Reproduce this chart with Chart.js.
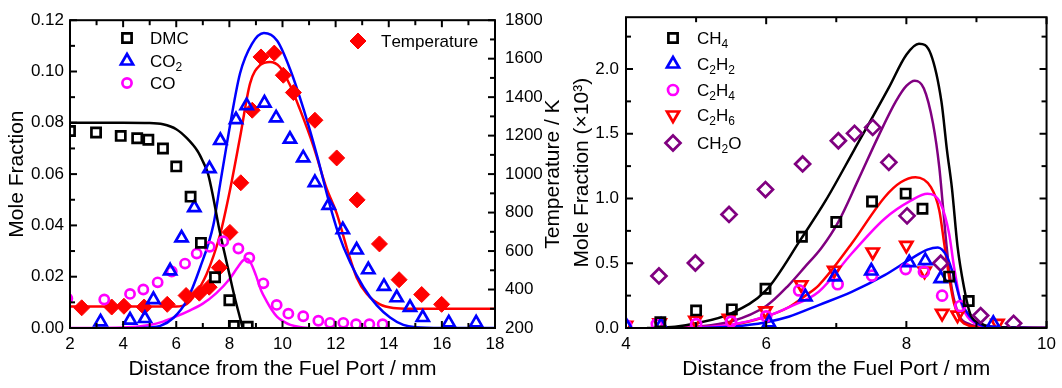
<!DOCTYPE html>
<html><head><meta charset="utf-8">
<script src="https://cdn.jsdelivr.net/npm/chart.js"></script>
<style>
html,body{margin:0;padding:0;background:#fff;}
#wrap{position:relative;width:1062px;height:388px;overflow:hidden;background:#fff;}
canvas{position:absolute;top:0;}
#cL{left:0;width:575px;height:388px;}
#cR{left:560px;width:502px;height:388px;}
</style></head><body>
<div id="wrap"><canvas id="cL" width="575" height="388"></canvas><canvas id="cR" width="502" height="388"></canvas></div>
<script>
// ---------------- LEFT PANEL DATA ----------------
const dmcX = [2.0, 2.98, 3.91, 4.53, 4.95, 5.50, 6.00, 6.54, 6.93, 7.46, 8.00, 8.17, 8.69];
const dmcY = [0.0768, 0.0762, 0.0749, 0.0740, 0.0734, 0.0700, 0.0630, 0.0512, 0.0332, 0.0198, 0.0108, 0.0008, 0.0005];
const dmcModelX = [2.0, 4.0, 5.0, 5.5, 6.0, 6.4, 6.8, 7.0, 7.2, 7.4, 7.6, 7.8, 8.0, 8.2, 8.4, 8.5];
const dmcModelY = [0.0800, 0.0800, 0.0799, 0.0794, 0.0775, 0.0740, 0.0690, 0.0650, 0.0600, 0.0505, 0.0395, 0.0300, 0.0210, 0.0120, 0.0040, 0.0000];

const co2X = [3.15, 4.26, 4.82, 5.14, 5.77, 6.20, 6.68, 7.25, 7.66, 8.25, 8.65, 9.32, 9.76, 10.28, 10.78, 11.22, 11.74, 12.27, 12.79, 13.23, 13.82, 14.30, 14.80, 15.28, 16.26, 17.29];
const co2Y = [0.0024, 0.0031, 0.0037, 0.0111, 0.0223, 0.0351, 0.0469, 0.0621, 0.0731, 0.0812, 0.0867, 0.0877, 0.0819, 0.0736, 0.0663, 0.0567, 0.0478, 0.0383, 0.0304, 0.0227, 0.0162, 0.0118, 0.0080, 0.0041, 0.0020, 0.0020];
const co2ModelX = [4.5, 5.0, 5.4, 5.9, 6.4, 6.9, 7.4, 7.65, 7.9, 8.4, 8.85, 9.3, 9.8, 10.3, 10.8, 11.3, 11.75, 12.1, 12.55, 13.05, 13.55, 14.05, 14.55, 15.0, 16.0, 18.0];
const co2ModelY = [0.0, 0.0002, 0.0008, 0.0040, 0.0108, 0.0236, 0.0403, 0.0560, 0.0715, 0.0992, 0.1108, 0.1150, 0.1120, 0.1005, 0.0851, 0.0672, 0.0492, 0.0370, 0.0255, 0.0159, 0.0088, 0.0041, 0.0012, 0.0003, 0.0, 0.0];

const coX = [1.9, 3.29, 4.26, 4.76, 5.30, 5.83, 6.33, 6.77, 7.26, 7.77, 8.34, 8.75, 9.28, 9.78, 10.22, 10.78, 11.35, 11.79, 12.29, 12.77, 13.27, 13.77];
const coY = [0.0115, 0.0111, 0.0133, 0.0150, 0.0178, 0.0220, 0.0251, 0.0290, 0.0317, 0.0338, 0.0310, 0.0274, 0.0174, 0.0090, 0.0056, 0.0046, 0.0028, 0.0020, 0.0020, 0.0015, 0.0015, 0.0015];
const coModelX = [2.0, 4.0, 5.0, 5.5, 6.0, 6.5, 7.0, 7.5, 8.0, 8.3, 8.5, 8.65, 8.8, 9.0, 9.2, 9.4, 9.6, 9.8, 10.0, 10.3, 10.7, 11.0];
const coModelY = [0.0, 0.0002, 0.0012, 0.0025, 0.0045, 0.0068, 0.0095, 0.0135, 0.0190, 0.0235, 0.0262, 0.0270, 0.0255, 0.0205, 0.0145, 0.0105, 0.0070, 0.0043, 0.0028, 0.0012, 0.0003, 0.0];

const tempX = [2.44, 3.57, 4.03, 4.79, 5.66, 6.37, 6.87, 7.24, 7.62, 8.02, 8.43, 8.86, 9.19, 9.69, 10.03, 10.41, 11.22, 12.04, 12.81, 13.65, 14.39, 15.24, 15.99];
const tempY = [305, 309, 313, 309, 323, 369, 381, 412, 514, 697, 955, 1332, 1609, 1629, 1514, 1424, 1280, 1084, 866, 637, 451, 374, 323];
const tempModelX = [2.0, 6.0, 6.4, 6.64, 7.14, 7.65, 8.02, 8.40, 8.78, 9.15, 9.53, 9.90, 10.28, 10.66, 11.16, 11.66, 12.04, 12.42, 12.79, 13.17, 13.67, 14.17, 14.8, 18.0];
const tempModelY = [312, 312, 325, 360, 480, 686, 915, 1190, 1472, 1566, 1583, 1557, 1463, 1335, 1147, 925, 796, 617, 463, 378, 323, 304, 300, 300];

const leftXTicks = [2, 4, 6, 8, 10, 12, 14, 16, 18];
const leftXMinor = [3, 5, 7, 9, 11, 13, 15, 17];
const leftYTicks = [0, 0.02, 0.04, 0.06, 0.08, 0.10, 0.12];
const leftYMinor = [0.01, 0.03, 0.05, 0.07, 0.09, 0.11];
const tempTicks = [200, 400, 600, 800, 1000, 1200, 1400, 1600, 1800];
const tempMinor = [300, 500, 700, 900, 1100, 1300, 1500, 1700];

// ---------------- RIGHT PANEL DATA ----------------
const ch4X = [4.49, 5.0, 5.51, 5.99, 6.51, 7.0, 7.51, 7.99, 8.23, 8.61, 8.89];
const ch4Y = [0.045, 0.136, 0.144, 0.303, 0.705, 0.818, 0.977, 1.038, 0.921, 0.397, 0.208];
const ch4ModelX = [4.3, 4.7, 5.0, 5.5, 6.0, 6.5, 6.85, 7.25, 7.75, 8.0, 8.18, 8.35, 8.5, 8.58, 8.65, 8.73, 8.82, 8.91, 9.06, 9.2, 10.0];
const ch4ModelY = [0.0, 0.01, 0.036, 0.113, 0.292, 0.69, 0.985, 1.37, 1.856, 2.11, 2.195, 2.113, 1.75, 1.37, 1.08, 0.63, 0.32, 0.11, 0.036, 0.01, 0.0];

const c2h2X = [4.0, 4.5, 6.04, 6.56, 6.98, 7.5, 8.04, 8.27, 8.49, 9.24];
const c2h2Y = [0.02, 0.02, 0.04, 0.24, 0.395, 0.44, 0.505, 0.52, 0.382, 0.036];
const c2h2ModelX = [5.0, 5.5, 6.0, 6.32, 6.75, 7.22, 7.69, 8.07, 8.3, 8.45, 8.58, 8.68, 8.77, 8.91, 9.07, 9.3, 10.0];
const c2h2ModelY = [0.0, 0.01, 0.045, 0.087, 0.177, 0.279, 0.408, 0.536, 0.605, 0.622, 0.55, 0.395, 0.215, 0.087, 0.02, 0.005, 0.0];

const c2h4X = [4.0, 4.44, 5.0, 5.5, 6.0, 6.47, 7.02, 7.51, 7.99, 8.25, 8.51, 8.77];
const c2h4Y = [0.02, 0.03, 0.03, 0.05, 0.09, 0.29, 0.338, 0.405, 0.455, 0.435, 0.25, 0.17];
const c2h4ModelX = [4.5, 5.0, 5.5, 6.0, 6.32, 6.75, 7.22, 7.69, 8.07, 8.3, 8.49, 8.61, 8.68, 8.77, 8.91, 9.2, 10.0];
const c2h4ModelY = [0.0, 0.005, 0.025, 0.09, 0.16, 0.28, 0.575, 0.844, 0.985, 1.036, 0.959, 0.728, 0.472, 0.215, 0.062, 0.01, 0.0];

const c2h6X = [4.0, 4.48, 4.99, 5.47, 5.99, 6.5, 6.97, 7.52, 8.0, 8.26, 8.51, 8.73, 9.3];
const c2h6Y = [0.02, 0.04, 0.06, 0.075, 0.133, 0.334, 0.446, 0.587, 0.638, 0.44, 0.113, 0.10, 0.036];
const c2h6ModelX = [4.5, 5.0, 5.47, 5.99, 6.32, 6.56, 6.75, 7.22, 7.69, 7.92, 8.13, 8.35, 8.47, 8.54, 8.61, 8.68, 8.82, 9.1, 10.0];
const c2h6ModelY = [0.0, 0.005, 0.02, 0.087, 0.16, 0.25, 0.33, 0.652, 1.01, 1.125, 1.164, 1.087, 0.908, 0.652, 0.395, 0.19, 0.036, 0.005, 0.0];

const ch2oX = [4.47, 4.99, 5.47, 5.99, 6.52, 7.03, 7.26, 7.52, 7.75, 8.01, 8.49, 9.06, 9.53];
const ch2oY = [0.402, 0.502, 0.877, 1.069, 1.267, 1.446, 1.503, 1.549, 1.279, 0.866, 0.50, 0.096, 0.036];
const ch2oModelX = [4.6, 5.0, 5.5, 6.0, 6.32, 6.55, 6.79, 7.03, 7.31, 7.6, 7.85, 8.0, 8.12, 8.25, 8.38, 8.47, 8.52, 8.58, 8.65, 8.75, 8.9, 9.1, 10.0];
const ch2oModelY = [0.0, 0.01, 0.05, 0.17, 0.33, 0.47, 0.62, 0.82, 1.14, 1.48, 1.75, 1.87, 1.91, 1.85, 1.58, 1.24, 0.95, 0.60, 0.30, 0.10, 0.03, 0.01, 0.0];

const rightXTicks = [4, 6, 8, 10];
const rightXMinor = [5, 7, 9];
const rightYTicks = [0, 0.5, 1.0, 1.5, 2.0];
const rightYMinor = [0.25, 0.75, 1.25, 1.75, 2.25];

// ---------------- HELPERS ----------------
const FAMILY = "'Liberation Sans', Arial, sans-serif";
const TITLE_FONT = {family: FAMILY, size: 21};
const TICK_FONT = {family: FAMILY, size: 17};
Chart.defaults.font.family = FAMILY;
Chart.defaults.color = '#000';

function pts(xs, ys) { return xs.map((x, i) => ({x: x, y: ys[i]})); }
function markerDs(label, xs, ys, style, color, r, extra) {
  return Object.assign({
    label: label, data: pts(xs, ys), showLine: false, pointStyle: style, pointRadius: r,
    pointBorderColor: color, pointBackgroundColor: 'rgba(0,0,0,0)', pointBorderWidth: 2.7,
    pointRotation: 0, borderColor: color, backgroundColor: color
  }, extra || {});
}
function lineDs(xs, ys, color, extra) {
  return Object.assign({
    label: '', data: pts(xs, ys), showLine: true, pointRadius: 0, borderColor: color,
    borderWidth: 2.5, cubicInterpolationMode: 'monotone', fill: false
  }, extra || {});
}
function fixedTicks(arr) { return function (s) { s.ticks = arr.map(v => ({value: v})); }; }

// frame + inward ticks
const framePlugin = {
  id: 'frame',
  afterDraw(chart, args, o) {
    const ctx = chart.ctx, a = chart.chartArea;
    ctx.save();
    ctx.strokeStyle = '#000';
    ctx.lineWidth = 2;
    const seg = (x1, y1, x2, y2) => { ctx.beginPath(); ctx.moveTo(x1, y1); ctx.lineTo(x2, y2); ctx.stroke(); };
    const xs = chart.scales[o.x.scale];
    o.x.major.concat(o.x.minor).forEach((v, i) => {
      const len = i < o.x.major.length ? 7 : 5;
      const p = xs.getPixelForValue(v);
      seg(p, a.bottom, p, a.bottom - len);
      seg(p, a.top, p, a.top + len);
    });
    const ls = chart.scales[o.left.scale];
    o.left.major.concat(o.left.minor).forEach((v, i) => {
      const len = i < o.left.major.length ? 7 : 5;
      const p = ls.getPixelForValue(v);
      seg(a.left, p, a.left + len, p);
    });
    const rs = chart.scales[o.right.scale];
    o.right.major.concat(o.right.minor).forEach((v, i) => {
      const len = i < o.right.major.length ? 7 : 5;
      const p = rs.getPixelForValue(v);
      seg(a.right, p, a.right - len, p);
    });
    ctx.strokeRect(a.left, a.top, a.right - a.left, a.bottom - a.top);
    ctx.restore();
  }
};

// draws a label where digits become subscripts
function drawRich(ctx, text, x, y) {
  const base = "17px " + FAMILY;
  const sub = "12px " + FAMILY;
  ctx.textAlign = 'left';
  ctx.textBaseline = 'alphabetic';
  ctx.fillStyle = '#000';
  let cx = x;
  const baseY = y + 6;
  for (const ch of text) {
    if (/[0-9]/.test(ch)) {
      ctx.font = sub;
      ctx.fillText(ch, cx, baseY + 4);
    } else {
      ctx.font = base;
      ctx.fillText(ch, cx, baseY);
    }
    cx += ctx.measureText(ch).width;
  }
}

const legendPlugin = {
  id: 'richLegend',
  afterDatasetsDraw(chart, args, o) {
    const ctx = chart.ctx;
    (o.items || []).forEach(it => {
      const ds = chart.data.datasets[it.ds];
      ctx.save();
      ctx.strokeStyle = ds.pointBorderColor;
      ctx.fillStyle = ds.pointBackgroundColor;
      ctx.lineWidth = ds.pointBorderWidth;
      Chart.helpers.drawPoint(ctx, {
        pointStyle: ds.pointStyle, rotation: ds.pointRotation || 0,
        radius: ds.pointRadius, borderWidth: ds.pointBorderWidth
      }, it.x, it.y);
      ctx.restore();
      ctx.save();
      drawRich(ctx, ds.label, it.x + o.gap, it.y);
      ctx.restore();
    });
  }
};

const sideTitlePlugin = {
  id: 'sideTitle',
  afterDraw(chart, args, o) {
    if (!o.text) return;
    const ctx = chart.ctx, a = chart.chartArea;
    ctx.save();
    ctx.translate(o.x, (a.top + a.bottom) / 2);
    ctx.rotate(-Math.PI / 2);
    ctx.font = "21px " + FAMILY;
    ctx.fillStyle = '#000';
    ctx.textAlign = 'center';
    ctx.textBaseline = 'middle';
    ctx.fillText(o.text, 0, 0);
    ctx.restore();
  }
};

const noGrid = {display: false, drawTicks: false};

// ---------------- LEFT CHART ----------------
new Chart(document.getElementById('cL'), {
  type: 'scatter',
  data: {
    datasets: [
      markerDs('DMC', dmcX, dmcY, 'rect', '#000000', 6.5),
      markerDs('CO2', co2X, co2Y, 'triangle', '#0000ff', 7),
      markerDs('CO', coX, coY, 'circle', '#ff00ff', 4.6),
      markerDs('Temperature', tempX, tempY, 'rectRot', '#ff0000', 8, {pointBackgroundColor: '#ff0000', pointBorderWidth: 1, yAxisID: 'yT'}),
      lineDs(dmcModelX, dmcModelY, '#000000'),
      lineDs(co2ModelX, co2ModelY, '#0000ff'),
      lineDs(coModelX, coModelY, '#ff00ff'),
      lineDs(tempModelX, tempModelY, '#ff0000', {yAxisID: 'yT'})
    ]
  },
  options: {
    responsive: false, animation: false, events: [],
    layout: {padding: {top: 16, left: 0, right: 0, bottom: 0}},
    plugins: {
      legend: {display: false}, tooltip: {enabled: false},
      frame: {x: {scale: 'x', major: leftXTicks, minor: leftXMinor},
              left: {scale: 'y', major: leftYTicks, minor: leftYMinor},
              right: {scale: 'yT', major: tempTicks, minor: tempMinor}},
      richLegend: {gap: 23, items: [{ds: 0, x: 127, y: 38}, {ds: 1, x: 127, y: 61}, {ds: 2, x: 127, y: 83}, {ds: 3, x: 358, y: 41}]},
      sideTitle: {text: 'Temperature / K', x: 553}
    },
    scales: {
      x: {type: 'linear', min: 2, max: 18, afterBuildTicks: fixedTicks(leftXTicks),
          afterFit: s => { s.height = 60; },
          grid: noGrid, border: {display: false},
          ticks: {font: TICK_FONT, padding: 6, autoSkip: false, maxRotation: 0, callback: v => String(v)},
          title: {display: true, text: 'Distance from the Fuel Port / mm', font: TITLE_FONT, padding: {top: 0, bottom: 6}}},
      y: {type: 'linear', position: 'left', min: 0, max: 0.12, afterBuildTicks: fixedTicks(leftYTicks),
          afterFit: s => { s.width = 70; },
          grid: noGrid, border: {display: false},
          ticks: {font: TICK_FONT, padding: 6, autoSkip: false, callback: v => v.toFixed(2)},
          title: {display: true, text: 'Mole Fraction', font: TITLE_FONT, padding: {top: 5, bottom: 0}}},
      yT: {type: 'linear', position: 'right', min: 200, max: 1800, afterBuildTicks: fixedTicks(tempTicks),
          afterFit: s => { s.width = 80; },
          grid: noGrid, border: {display: false},
          ticks: {font: TICK_FONT, padding: 10, autoSkip: false, callback: v => String(v)}}
    }
  },
  plugins: [framePlugin, legendPlugin, sideTitlePlugin]
});

// ---------------- RIGHT CHART ----------------
new Chart(document.getElementById('cR'), {
  type: 'scatter',
  data: {
    datasets: [
      markerDs('CH4', ch4X, ch4Y, 'rect', '#000000', 6.5),
      markerDs('C2H2', c2h2X, c2h2Y, 'triangle', '#0000ff', 7),
      markerDs('C2H4', c2h4X, c2h4Y, 'circle', '#ff00ff', 5),
      markerDs('C2H6', c2h6X, c2h6Y, 'triangle', '#ff0000', 7, {pointRotation: 180}),
      markerDs('CH2O', ch2oX, ch2oY, 'rectRot', '#800080', 7.5),
      lineDs(ch4ModelX, ch4ModelY, '#000000'),
      lineDs(c2h2ModelX, c2h2ModelY, '#0000ff'),
      lineDs(c2h4ModelX, c2h4ModelY, '#ff00ff'),
      lineDs(c2h6ModelX, c2h6ModelY, '#ff0000'),
      lineDs(ch2oModelX, ch2oModelY, '#800080')
    ]
  },
  options: {
    responsive: false, animation: false, events: [],
    layout: {padding: {top: 16, left: 0, right: 12, bottom: 0}},
    plugins: {
      legend: {display: false}, tooltip: {enabled: false},
      frame: {x: {scale: 'x', major: rightXTicks, minor: rightXMinor},
              left: {scale: 'y', major: rightYTicks, minor: rightYMinor},
              right: {scale: 'y', major: rightYTicks, minor: rightYMinor}},
      richLegend: {gap: 24, items: [{ds: 0, x: 113, y: 38}, {ds: 1, x: 113, y: 64}, {ds: 2, x: 113, y: 90}, {ds: 3, x: 113, y: 115}, {ds: 4, x: 113, y: 143}]},
      sideTitle: {text: ''}
    },
    scales: {
      x: {type: 'linear', min: 4, max: 10, afterBuildTicks: fixedTicks(rightXTicks),
          afterFit: s => { s.height = 60; },
          grid: noGrid, border: {display: false},
          ticks: {font: TICK_FONT, padding: 6, autoSkip: false, maxRotation: 0, callback: v => String(v)},
          title: {display: true, text: 'Distance from the Fuel Port / mm', font: TITLE_FONT, padding: {top: 0, bottom: 6}}},
      y: {type: 'linear', position: 'left', min: 0, max: 2.4, afterBuildTicks: fixedTicks(rightYTicks),
          afterFit: s => { s.width = 66; },
          grid: noGrid, border: {display: false},
          ticks: {font: TICK_FONT, padding: 7, autoSkip: false, callback: v => v.toFixed(1)},
          title: {display: true, text: 'Mole Fraction (\u00d710\u00b3)', font: TITLE_FONT, padding: {top: 10, bottom: 0}}}
    }
  },
  plugins: [framePlugin, legendPlugin, sideTitlePlugin]
});
</script>
</body></html>
